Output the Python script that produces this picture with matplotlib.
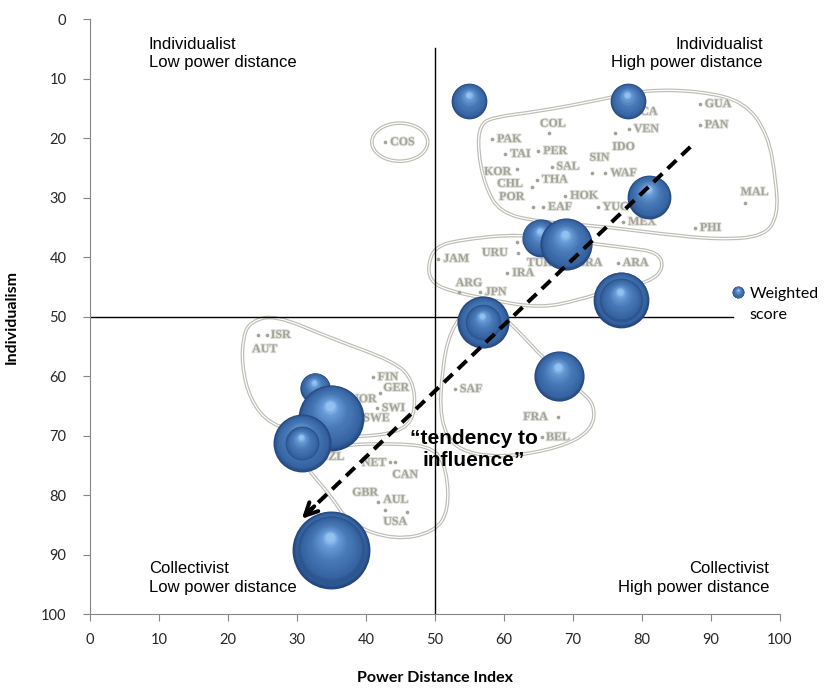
import numpy as np
import matplotlib
matplotlib.use("Agg")
import matplotlib.pyplot as plt
import matplotlib.patheffects as pe
from matplotlib.path import Path
from matplotlib.patches import PathPatch, Ellipse
from matplotlib.transforms import ScaledTranslation

# bubbles: power distance, individualism, weighted score
pdi = [55, 78, 81, 65.3, 69, 77, 77, 57, 57, 68, 32.6, 35, 30.7, 30.7, 35, 35]
idv = [13.8, 13.8, 29.9, 36.8, 37.8, 47.2, 47.2, 51, 51, 60, 62, 67, 71.3, 71.3, 89.2, 89.2]
weighted_score = [3.2, 3.2, 4.8, 3.6, 6.8, 7.8, 4.8, 6.8, 3.2, 6.3, 2.3, 10.9, 8.4, 2.9, 15.2, 11.6]

# country codes in the background map
country_codes = ["COS", "PAK", "COL", "VEN", "IDO", "GUA", "PAN", "ECA", "TAI", "PER",
                 "KOR", "SAL", "SIN", "WAF", "THA", "CHL", "HOK", "POR", "EAF", "YUG",
                 "MEX", "MAL", "PHI", "JAM", "URU", "GRE", "TUR", "BRA", "IRA", "ARG",
                 "JPN", "ARA", "ISR", "AUT", "FIN", "GER", "SWI", "SWE", "NOR", "NZL",
                 "NET", "CAN", "GBR", "AUL", "USA", "SAF", "FRA", "BEL"]
code_x = [43.5, 59.0, 65.2, 78.8, 75.7, 89.1, 89.1, 78.6, 60.9, 65.7,
          57.1, 67.6, 72.4, 75.4, 65.5, 59.0, 69.6, 59.3, 66.4, 74.3,
          78.0, 94.3, 88.4, 51.2, 56.8, 62.6, 63.3, 70.6, 61.2, 53.0,
          57.2, 77.2, 26.2, 23.5, 41.7, 42.5, 42.3, 39.6, 37.7, 33.3,
          39.4, 43.8, 38.0, 42.5, 42.5, 53.6, 62.8, 66.1]
code_y = [20.7, 20.2, 17.6, 18.5, 21.5, 14.3, 17.8, 15.6, 22.7, 22.2,
          25.7, 24.8, 23.3, 25.9, 27.0, 27.7, 29.7, 29.9, 31.6, 31.6,
          34.1, 29.1, 35.1, 40.3, 39.3, 37.5, 41.0, 41.0, 42.7, 44.4,
          45.9, 41.0, 53.1, 55.5, 60.2, 62.0, 65.4, 67.1, 63.9, 73.6,
          74.6, 76.6, 79.6, 80.8, 84.5, 62.2, 66.9, 70.3]
dot_x = [42.8, 58.3, 66.5, 78.1, 76.1, 88.4, 88.4, 60.1, 64.9, 61.9, 66.9, 72.8,
         74.6, 64.8, 64.1, 68.8, 64.2, 65.7, 73.6, 77.2, 94.9, 87.7, 50.4, 62.0,
         61.9, 60.4, 53.5, 56.5, 76.5, 24.3, 25.7, 41.0, 42.0, 41.6, 43.5, 44.2,
         41.7, 42.8, 45.9, 52.9, 67.8, 65.5]
dot_y = [20.7, 20.2, 19.2, 18.5, 19.2, 14.3, 17.8, 22.7, 22.2, 25.2, 24.8, 25.9,
         25.9, 27.0, 28.2, 29.7, 31.6, 31.6, 31.6, 34.1, 30.9, 35.1, 40.3, 39.3,
         37.5, 42.7, 45.9, 45.9, 41.0, 53.1, 53.1, 60.2, 62.9, 65.4, 74.5, 74.5,
         81.2, 82.5, 82.9, 62.2, 66.9, 70.3]

# cluster outlines
cluster_upper = [(56.5, 17.8), (58.4, 16.5), (65.2, 15.5), (73.9, 13.6), (80.4, 11.9),
                 (88.4, 12.1), (94.9, 13.9), (98.3, 19.5), (99.4, 27.1), (99.7, 32.9),
                 (97.8, 36.5), (91.3, 37.1), (82.6, 36.1), (73.9, 34.8), (65.2, 34.1),
                 (59.4, 32.6), (57.2, 27.9), (56.2, 22.0)]
cluster_middle = [(49.0, 41.3), (50.0, 38.3), (53.6, 37.1), (62.3, 36.1), (71.0, 37.5),
                  (78.3, 38.5), (82.3, 39.2), (83.2, 41.8), (81.2, 44.2), (75.4, 45.5),
                  (71.0, 47.2), (65.2, 48.6), (58.0, 47.2), (51.4, 45.5), (49.3, 43.9)]
cluster_germanic = [(22.2, 53.4), (23.2, 50.9), (26.8, 49.7), (34.8, 53.6), (44.2, 57.6),
                    (46.8, 60.7), (47.2, 65.7), (45.7, 69.1), (39.9, 70.3), (31.9, 69.9),
                    (26.1, 68.2), (23.2, 64.0), (22.0, 58.2)]
cluster_anglo = [(31.2, 75.0), (34.8, 71.6), (44.9, 71.3), (50.0, 72.1), (51.7, 75.8),
                 (52.0, 82.5), (50.0, 86.2), (44.2, 87.6), (37.7, 85.0), (34.8, 80.0),
                 (32.6, 77.1)]
cluster_latin = [(55.1, 48.1), (52.2, 52.3), (51.0, 59.0), (50.7, 67.4), (52.9, 72.4),
                 (59.4, 73.8), (68.1, 72.1), (72.8, 69.1), (73.2, 64.9), (71.0, 62.4),
                 (65.9, 57.3), (62.0, 52.3), (58.7, 48.9)]

x_ticks = list(range(0, 101, 10))
y_ticks = list(range(0, 101, 10))

SIZE_SCALE = 207  # points^2 per unit of weighted score

fig = plt.figure(figsize=(8.24, 6.91), dpi=100)
ax = fig.add_axes([0.1092, 0.1114, 0.8374, 0.8611])
ax.set_xlim(0, 100)
ax.set_ylim(100, 0)


def smooth_loop(pts):
    # closed curve through edge midpoints, using the points as quadratic controls
    pts = np.asarray(pts)
    n = len(pts)
    mids = (pts + np.roll(pts, -1, axis=0)) / 2
    verts = [mids[-1]]
    codes = [Path.MOVETO]
    for i in range(n):
        verts += [pts[i], mids[i]]
        codes += [Path.CURVE3, Path.CURVE3]
    return Path(verts, codes)


outline_col = "#bdbdb5"
for loop in [cluster_upper, cluster_middle, cluster_germanic, cluster_anglo, cluster_latin]:
    p = smooth_loop(loop)
    ax.add_patch(PathPatch(p, facecolor="none", edgecolor=outline_col, lw=2.6, zorder=1))
    ax.add_patch(PathPatch(p, facecolor="none", edgecolor="white", lw=0.9, zorder=1.1))
ax.add_patch(Ellipse((44.9, 20.7), 8.1, 6.4, facecolor="none", edgecolor=outline_col, lw=2.6, zorder=1))
ax.add_patch(Ellipse((44.9, 20.7), 8.1, 6.4, facecolor="none", edgecolor="white", lw=0.9, zorder=1.1))

code_col = "#a3a39a"
for c, x, y in zip(country_codes, code_x, code_y):
    ax.text(x, y, c, fontsize=8.6, family="Liberation Serif", fontweight="bold",
            color=code_col, ha="left", va="center", zorder=1.2,
            path_effects=[pe.withStroke(linewidth=1.4, foreground="#e2e2dc")])
ax.scatter(dot_x, dot_y, s=7, color=code_col, zorder=1.2, linewidths=0)

# quadrant lines
ax.plot([50, 50], [4.9, 100], color="black", lw=1, zorder=2)
ax.plot([0, 93.2], [50, 50], color="black", lw=1, zorder=2)

stops_t = [0.0, 0.12, 0.5, 0.82, 1.0]
stops_c = np.array([[0.14, 0.28, 0.50], [0.21, 0.39, 0.63], [0.28, 0.47, 0.71],
                    [0.40, 0.60, 0.84], [0.62, 0.80, 0.97]])


def draw_sphere(x, y, score, z, rim=0.0, layers=26):
    r_pt = np.sqrt(score * SIZE_SCALE) / 2
    for i in range(layers):
        t = i / layers
        f = 1 - 0.9 * t
        col = [np.interp(max(t, rim), stops_t, stops_c[:, k]) for k in range(3)]
        dx = -0.06 * t * r_pt / 72
        dy = 0.38 * t * r_pt / 72
        tr = ax.transData + ScaledTranslation(dx, dy, fig.dpi_scale_trans)
        ax.scatter([x], [y], s=(2 * r_pt * f) ** 2, color=col, linewidths=0,
                   transform=tr, zorder=z + i * 0.001, clip_on=False)


prev = None
for k, (x, y, w) in enumerate(zip(pdi, idv, weighted_score)):
    # a second bubble on the same spot gets a softer rim
    rim = 0.06 if prev == (x, y) else 0.0
    draw_sphere(x, y, w, 3 + k * 0.05, rim=rim)
    prev = (x, y)

# legend
draw_sphere(93.9, 45.9, 0.36, 3.9)
ax.text(95.6, 48.0, "Weighted\nscore", fontsize=11.5, family="Lato", ha="left", va="center",
        linespacing=1.65, zorder=5)

# "tendency to influence" arrow
ax.plot([87, 31.6], [21.5, 82.9], color="black", lw=2.9, ls=(0, (3, 1.8)), zorder=4,
        solid_capstyle="butt", dash_capstyle="butt")
ax.annotate("", xy=(30.7, 84), xytext=(32.5, 81.9),
            arrowprops=dict(arrowstyle="->,head_length=0.9,head_width=0.45", lw=2.9,
                            color="black", shrinkA=0, shrinkB=0), zorder=4)
ax.text(55.6, 72.3, "\u201ctendency to\ninfluence\u201d", fontsize=15, fontweight="bold",
        family="Liberation Sans", ha="center", va="center", multialignment="center",
        linespacing=1.2, zorder=5)

# quadrant captions
qfont = dict(fontsize=12, family="Liberation Sans", linespacing=1.3, zorder=5)
ax.text(8.5, 3.0, "Individualist\nLow power distance", ha="left", va="top", **qfont)
ax.text(97.5, 3.0, "Individualist\nHigh power distance", ha="right", va="top", **qfont)
ax.text(8.5, 96.8, "Collectivist\nLow power distance", ha="left", va="bottom", **qfont)
ax.text(98.4, 96.8, "Collectivist\nHigh power distance", ha="right", va="bottom", **qfont)

for s in ["top", "right"]:
    ax.spines[s].set_visible(False)
for s in ["left", "bottom"]:
    ax.spines[s].set_color("#868686")
ax.set_xticks(x_ticks)
ax.set_yticks(y_ticks)
ax.tick_params(direction="out", length=5, color="#868686", labelsize=10.5,
               labelcolor="#262626")
for lab in ax.get_xticklabels() + ax.get_yticklabels():
    lab.set_family("Lato")
ax.tick_params(axis="x", pad=9)
ax.tick_params(axis="y", pad=12)
ax.set_xlabel("Power Distance Index", fontsize=11.5, fontweight="bold", family="Lato", labelpad=17)
ax.set_ylabel("Individualism", fontsize=11.5, fontweight="bold", family="Lato", labelpad=16)

fig.savefig("out.png", dpi=100)
